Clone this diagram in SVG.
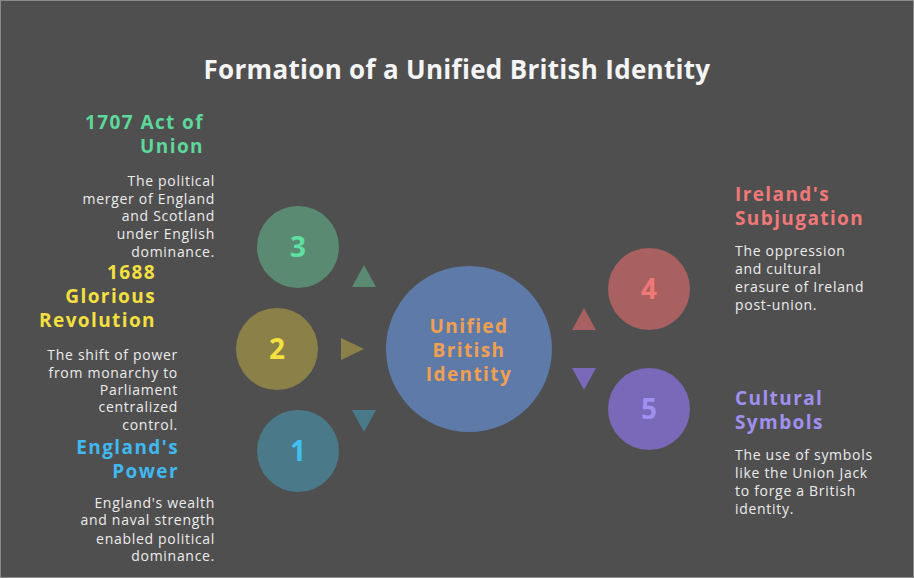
<svg xmlns="http://www.w3.org/2000/svg" width="914" height="578" viewBox="0 0 914 578">
<defs>
<style>
.t{font-family:"Open Sans","Liberation Sans",sans-serif;}
.title{font-size:26px;font-weight:bold;fill:#f4f4f4;text-anchor:middle;letter-spacing:0.3px;}
.h{font-size:19px;font-weight:bold;letter-spacing:1.4px;}
.d{font-size:14px;fill:#ececec;letter-spacing:0.7px;}
.num{font-size:28px;font-weight:bold;text-anchor:middle;}
.r{text-anchor:end;}
.l{text-anchor:start;}
</style>
</defs>
<rect x="0.5" y="0.5" width="913" height="577" fill="#4f4f4f" stroke="#8a8a8a" stroke-width="1"/>
<text class="t title" x="457" y="79">Formation of a Unified British Identity</text>

<g id="connectors">
<polygon points="364,265 376,287 352,287" fill="#5a8a72"/>
<polygon points="341,338 364,349 341,360" fill="#8a8048"/>
<polygon points="352,410 376,410 364,432" fill="#4a7a8a"/>
<polygon points="584,308 596,330 572,330" fill="#a86060"/>
<polygon points="572,368 596,368 584,390" fill="#7a68b8"/>
</g>

<g id="center">
<circle cx="469" cy="349" r="83" fill="#5e7aa8"/>
<text class="t h" x="469" y="333" text-anchor="middle" fill="#f0a050">Unified</text>
<text class="t h" x="469" y="357" text-anchor="middle" fill="#f0a050">British</text>
<text class="t h" x="469" y="381" text-anchor="middle" fill="#f0a050">Identity</text>
</g>

<g id="node3">
<circle cx="298" cy="247" r="41" fill="#5a8a72"/>
<text class="t num" x="298" y="257" fill="#5de0a0">3</text>
<text class="t h r" x="204" y="129" fill="#5dd89a">1707 Act of</text>
<text class="t h r" x="204" y="153" fill="#5dd89a">Union</text>
<text class="t d r" x="215" y="186">The political</text>
<text class="t d r" x="215" y="204">merger of England</text>
<text class="t d r" x="215" y="221">and Scotland</text>
<text class="t d r" x="215" y="239">under English</text>
<text class="t d r" x="215" y="257">dominance.</text>
</g>

<g id="node2">
<circle cx="277" cy="349" r="41" fill="#8a8048"/>
<text class="t num" x="277" y="359" fill="#f5e040">2</text>
<text class="t h r" x="156" y="279" fill="#f5e040">1688</text>
<text class="t h r" x="156" y="303" fill="#f5e040">Glorious</text>
<text class="t h r" x="156" y="327" fill="#f5e040">Revolution</text>
<text class="t d r" x="178" y="360">The shift of power</text>
<text class="t d r" x="178" y="378">from monarchy to</text>
<text class="t d r" x="178" y="395">Parliament</text>
<text class="t d r" x="178" y="412">centralized</text>
<text class="t d r" x="178" y="430">control.</text>
</g>

<g id="node1">
<circle cx="298" cy="451" r="41" fill="#4a7a8a"/>
<text class="t num" x="298" y="461" fill="#40c0f0">1</text>
<text class="t h r" x="179" y="454" fill="#40b8f0">England's</text>
<text class="t h r" x="179" y="478" fill="#40b8f0">Power</text>
<text class="t d r" x="215" y="508">England's wealth</text>
<text class="t d r" x="215" y="525">and naval strength</text>
<text class="t d r" x="215" y="544">enabled political</text>
<text class="t d r" x="215" y="561">dominance.</text>
</g>

<g id="node4">
<circle cx="649" cy="289" r="41" fill="#a86060"/>
<text class="t num" x="649" y="299" fill="#f07878">4</text>
<text class="t h l" x="735" y="201" fill="#f07878">Ireland's</text>
<text class="t h l" x="735" y="225" fill="#f07878">Subjugation</text>
<text class="t d l" x="735" y="256">The oppression</text>
<text class="t d l" x="735" y="274">and cultural</text>
<text class="t d l" x="735" y="292">erasure of Ireland</text>
<text class="t d l" x="735" y="310">post-union.</text>
</g>

<g id="node5">
<circle cx="649" cy="409" r="41" fill="#7a68b8"/>
<text class="t num" x="649" y="419" fill="#a090f0">5</text>
<text class="t h l" x="735" y="405" fill="#a090f0">Cultural</text>
<text class="t h l" x="735" y="429" fill="#a090f0">Symbols</text>
<text class="t d l" x="735" y="460">The use of symbols</text>
<text class="t d l" x="735" y="478">like the Union Jack</text>
<text class="t d l" x="735" y="496">to forge a British</text>
<text class="t d l" x="735" y="514">identity.</text>
</g>
</svg>
